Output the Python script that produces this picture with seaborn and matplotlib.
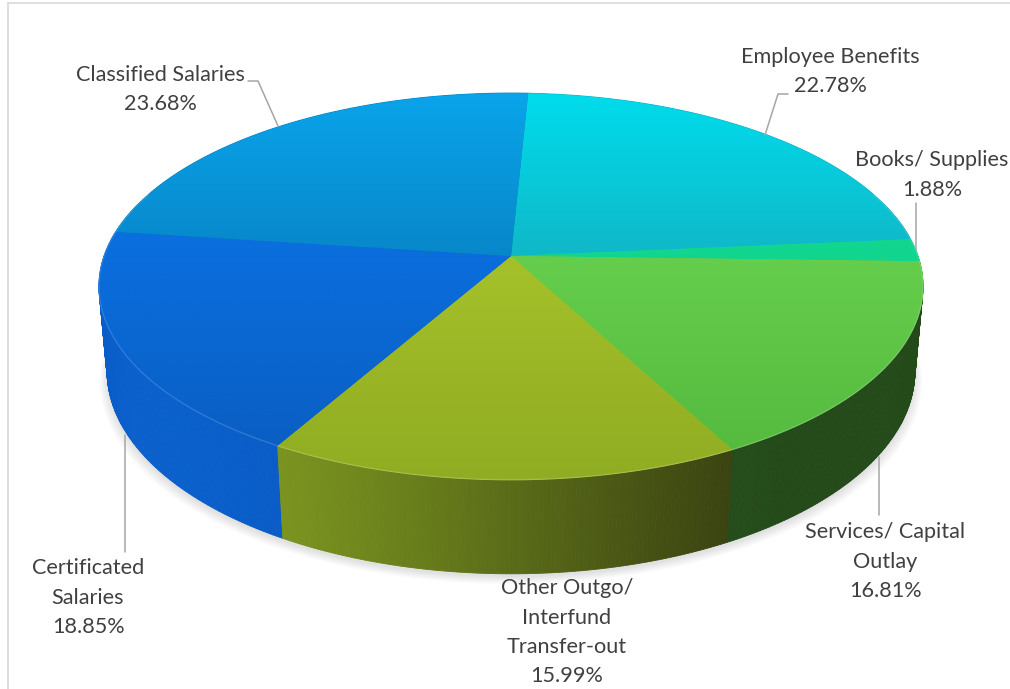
import numpy as np
import matplotlib
matplotlib.use("Agg")
import matplotlib.pyplot as plt
from matplotlib.patches import Polygon
from matplotlib.collections import PolyCollection
from matplotlib.colors import to_rgb
import seaborn as sns

# Expenditure categories, listed clockwise from the top of the pie
categories = ["Employee Benefits", "Books/ Supplies", "Services/ Capital Outlay",
              "Other Outgo/ Interfund Transfer-out", "Certificated Salaries",
              "Classified Salaries"]
label_lines = [["Employee Benefits"], ["Books/ Supplies"], ["Services/ Capital", "Outlay"],
               ["Other Outgo/", "Interfund", "Transfer-out"], ["Certificated", "Salaries"],
               ["Classified Salaries"]]
percentages = [22.78, 1.88, 16.81, 15.99, 18.85, 23.68]

# Top-face gradient (far edge -> near edge) and side-wall shading (lit -> shadow)
top_far = ["#00dcec", "#16e09a", "#73dd58", "#b4d030", "#0a7af0", "#0aa4ea"]
top_near = ["#268696", "#0cc882", "#53b83d", "#90ac22", "#0a5cc0", "#04609c"]
side_lit = ["#0a9aa8", "#0ca070", "#3a8030", "#84a022", "#0a60cc", "#0a7cc0"]
side_dark = ["#087080", "#087050", "#244a1a", "#363e10", "#063f98", "#06508a"]

sns.set_theme(style="white")
plt.rcParams["font.family"] = ["Lato", "DejaVu Sans"]

W, H = 1010, 689
fig = plt.figure(figsize=(W / 100, H / 100), dpi=100)
ax = fig.add_axes([0, 0, 1, 1])
ax.set_xlim(0, W)
ax.set_ylim(H, 0)
ax.axis("off")

# Camera for the tilted disc
CX, CY = 511.0, 256.0
FOCAL, DIST = 2289.0, 5.626
ELEV = np.radians(27.6)
THICK = 0.237
START = 87.2
SE, CE = np.sin(ELEV), np.cos(ELEV)


def project(r, theta, y3):
    X = r * np.cos(theta)
    Z = r * np.sin(theta)
    depth = DIST - y3 * SE + Z * CE
    up = y3 * CE + Z * SE
    return CX + FOCAL * X / depth, CY - FOCAL * up / depth, depth


shares = np.asarray(percentages) / np.sum(percentages)
edges = np.radians(START - 360.0 * np.concatenate([[0.0], np.cumsum(shares)]))

# soft drop shadow under the disc
tt = np.linspace(0, 2 * np.pi, 400)
bx, by, _ = project(1.0, tt, -THICK)
for k in range(10):
    sx = CX + (bx - CX) * (1.0 + 0.002 * k)
    sy = by + 3 + 0.8 * k
    ax.add_patch(Polygon(np.column_stack([sx, sy]), closed=True, facecolor="#808080",
                         edgecolor="none", alpha=0.022, zorder=1))

# outer walls, painted far to near
light = np.array([-0.8, -0.6])
quads, qcols, qdepth = [], [], []
for i in range(len(percentages)):
    a, b = edges[i], edges[i + 1]
    n = max(4, int(abs(a - b) / np.radians(0.5)))
    th = np.linspace(a, b, n + 1)
    lit, dark = np.array(to_rgb(side_lit[i])), np.array(to_rgb(side_dark[i]))
    for j in range(n):
        t0, t1 = th[j], th[j + 1]
        tm = 0.5 * (t0 + t1)
        if np.sin(tm) > 0.3:
            continue
        x0, y0, d0 = project(1.0, t0, 0.0)
        x1, y1, _ = project(1.0, t1, 0.0)
        x2, y2, _ = project(1.0, t1, -THICK)
        x3, y3, _ = project(1.0, t0, -THICK)
        quads.append([(x0, y0), (x1, y1), (x2, y2), (x3, y3)])
        dot = max(0.0, np.cos(tm) * light[0] + np.sin(tm) * light[1])
        w = dot ** 1.5
        qcols.append(tuple(dark + (lit - dark) * w))
        qdepth.append(d0)
order = np.argsort(qdepth)[::-1]
ax.add_collection(PolyCollection([quads[k] for k in order],
                                 facecolors=[qcols[k] for k in order],
                                 edgecolors=[qcols[k] for k in order],
                                 linewidths=0.6, zorder=2))

# top faces with a vertical gradient
_, yfar, _ = project(1.0, np.pi / 2, 0.0)
_, ynear, _ = project(1.0, -np.pi / 2, 0.0)
ax_x, ax_y, _ = project(0.0, 0.0, 0.0)
for i in range(len(percentages)):
    a, b = edges[i], edges[i + 1]
    th = np.linspace(a, b, 200)
    rx, ry, _ = project(1.0, th, 0.0)
    pts = np.vstack([[ax_x, ax_y], np.column_stack([rx, ry])])
    cf, cn = np.array(to_rgb(top_far[i])), np.array(to_rgb(top_near[i]))
    mid = tuple(0.5 * (cf + cn))
    ax.add_patch(Polygon(pts, closed=True, facecolor=mid, edgecolor=mid,
                         linewidth=0.8, zorder=3))
    clip = Polygon(pts, closed=True, transform=ax.transData)
    y0, y1 = pts[:, 1].min(), pts[:, 1].max()
    ys = np.linspace(y0, y1, 128)
    t = np.clip((ys - yfar) / (ynear - yfar), 0, 1)[:, None]
    grad = (cf[None, :] * (1 - t) + cn[None, :] * t)[:, None, :].repeat(2, axis=1)
    im = ax.imshow(grad, extent=(pts[:, 0].min(), pts[:, 0].max(), y1, y0),
                   aspect="auto", interpolation="bilinear", zorder=4)
    im.set_clip_path(clip)

# faint highlight along the front rim
th = np.linspace(np.radians(-200), np.radians(20), 300)
hx, hy, _ = project(1.0, th, 0.0)
ax.plot(hx, hy, color="white", alpha=0.14, linewidth=1.0, zorder=5)
ax.set_xlim(0, W)
ax.set_ylim(H, 0)

# data labels
text_color = "#404040"
label_pos = [(830, 57), (932, 160), (885, 532), (567, 588), (88, 568), (160, 75)]
line_gap = 29.5
for lines, pct, (lx, ly) in zip(label_lines, percentages, label_pos):
    for k, s in enumerate(lines + [f"{pct:.2f}%"]):
        ax.text(lx, ly + k * line_gap, s, ha="center", va="center",
                fontsize=15.6, color=text_color, zorder=6)

# leader lines
lc = "#a6a6a6"
leaders = [
    [(788, 94), (778, 94), (765, 135)],
    [(916, 203), (916, 250)],
    [(879, 515), (879, 457)],
    [(125, 552), (125, 435)],
    [(248, 81), (258, 81), (278, 126)],
]
for seg in leaders:
    xs, ys = zip(*seg)
    ax.plot(xs, ys, color=lc, linewidth=1.1, zorder=6)

# chart area frame
ax.plot([8, 8], [3, H], color="#d9d9d9", linewidth=1.2, zorder=7)
ax.plot([8, W], [3, 3], color="#d9d9d9", linewidth=1.2, zorder=7)

fig.savefig("out.png", dpi=100, facecolor="white")
